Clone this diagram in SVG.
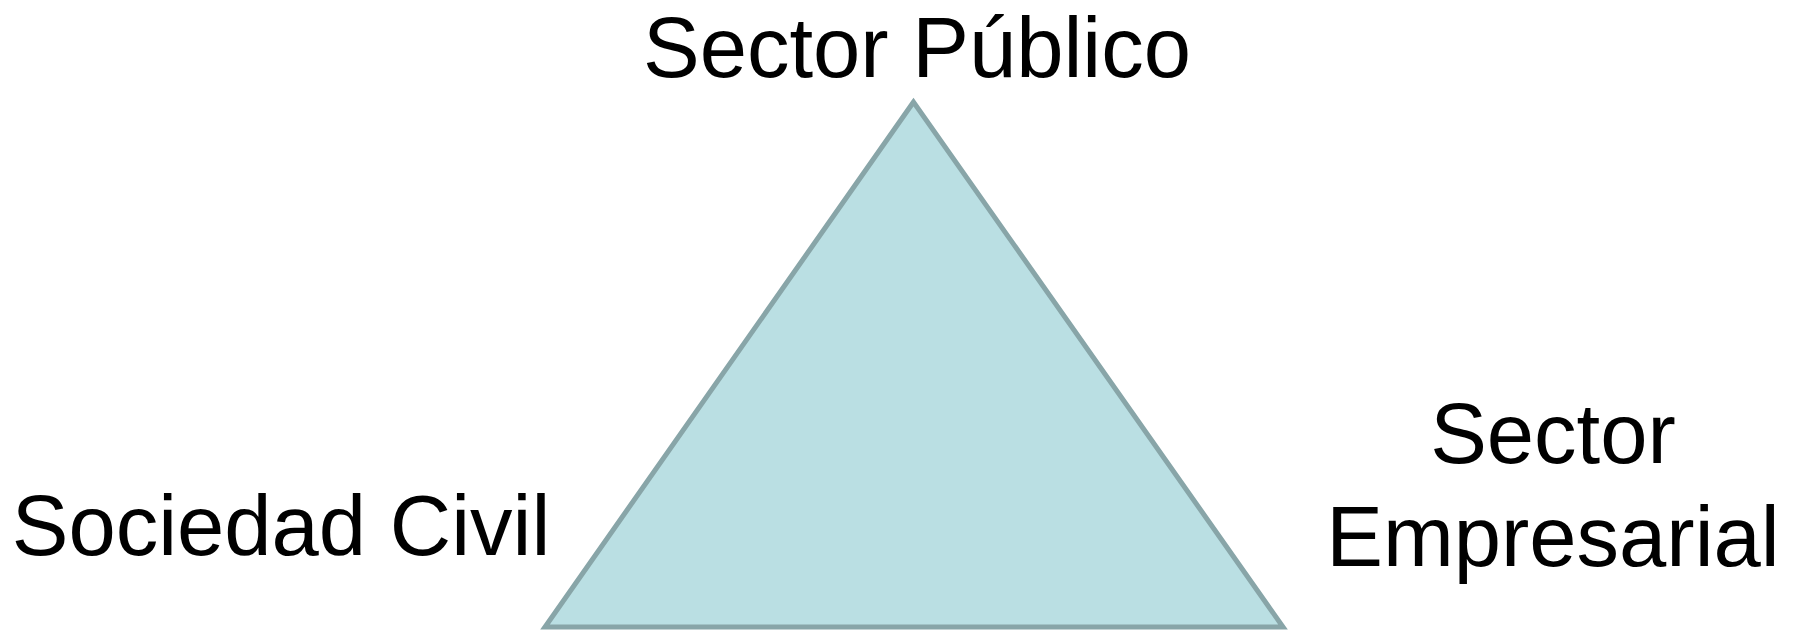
<svg xmlns="http://www.w3.org/2000/svg" width="1795" height="632" viewBox="0 0 1795 632">
<style>
.lbl{font-family:"Liberation Sans",Arial,sans-serif;font-size:85px;fill:#000;text-anchor:middle}
.tri{fill:#BADFE3;stroke:#88A5A8;stroke-width:5;stroke-linejoin:miter}
</style>
<rect width="1795" height="632" fill="#fff"/>
<g id="connectors"></g>
<g id="triangle"><polygon class="tri" points="913.5,102 545,627 1283,627"/></g>
<g id="sector-publico"><text class="lbl" x="917" y="77">Sector Público</text></g>
<g id="sociedad-civil"><text class="lbl" x="281" y="555">Sociedad Civil</text></g>
<g id="sector-empresarial"><text class="lbl" x="1553" y="463">Sector</text><text class="lbl" x="1553" y="566">Empresarial</text></g>
</svg>
